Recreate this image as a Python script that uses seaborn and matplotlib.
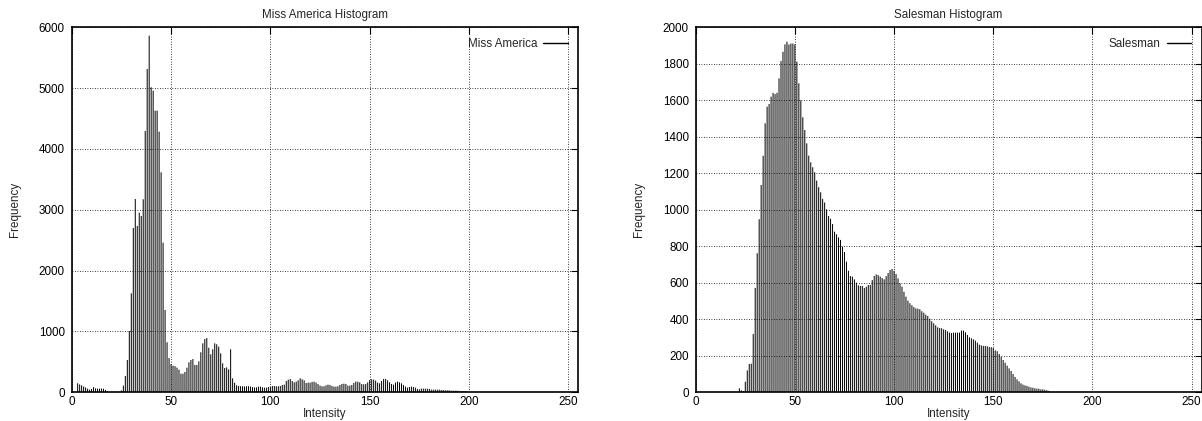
import numpy as np
import matplotlib
matplotlib.use("Agg")
import matplotlib.pyplot as plt
from matplotlib.lines import Line2D
import seaborn as sns

# Grey-level intensities 0..255 and the pixel counts for each image
intensity = np.arange(256)

miss_america = (
    [0, 0, 0, 148, 130, 115, 95, 80, 60, 45]
    + [55, 85, 65, 60, 60, 62, 58, 40, 18, 0]
    + [0, 0, 0, 0, 0, 30, 110, 268, 531, 1008]
    + [1627, 2701, 3178, 2734, 2953, 2899, 3173, 4296, 5315, 5863]
    + [5014, 4959, 4630, 4630, 4285, 3616, 2460, 1353, 822, 565]
    + [462, 438, 430, 405, 372, 306, 306, 334, 405, 493]
    + [531, 547, 449, 449, 509, 658, 805, 876, 893, 733]
    + [625, 707, 805, 790, 750, 641, 477, 400, 410, 378]
    + [707, 230, 158, 115, 104, 100, 100, 95, 100, 100]
    + [95, 85, 80, 82, 93, 93, 82, 77, 77, 88]
    + [93, 104, 104, 99, 99, 104, 120, 126, 186, 208]
    + [219, 186, 164, 175, 197, 230, 214, 197, 153, 159]
    + [159, 170, 175, 159, 137, 110, 99, 99, 115, 126]
    + [120, 104, 93, 93, 99, 120, 137, 142, 137, 110]
    + [110, 120, 153, 175, 175, 164, 137, 131, 137, 164]
    + [203, 214, 208, 192, 159, 148, 186, 219, 219, 197]
    + [164, 137, 126, 159, 175, 164, 148, 120, 93, 77]
    + [88, 93, 88, 77, 55, 49, 60, 60, 60, 60]
    + [55, 44, 44, 44, 44, 44, 38, 38, 33, 33]
    + [33, 27, 27, 27, 27, 22, 22, 22, 16, 16]
    + [0] * 56
)

salesman = (
    [0] * 20
    + [0, 0, 22, 11, 7, 58, 120, 155, 157, 320]
    + [572, 762, 948, 1136, 1296, 1474, 1565, 1580, 1620, 1641]
    + [1634, 1641, 1720, 1815, 1866, 1906, 1921, 1906, 1911, 1911]
    + [1906, 1812, 1693, 1600, 1507, 1437, 1364, 1297, 1260, 1233]
    + [1206, 1160, 1124, 1096, 1060, 1040, 1003, 966, 951, 922]
    + [880, 866, 849, 835, 798, 769, 716, 666, 637, 634]
    + [619, 601, 586, 583, 583, 572, 578, 588, 588, 615]
    + [637, 646, 642, 634, 626, 619, 637, 654, 670, 676]
    + [666, 648, 624, 597, 579, 551, 524, 502, 488, 477]
    + [467, 460, 458, 455, 444, 436, 425, 418, 403, 389]
    + [378, 367, 356, 352, 351, 345, 341, 334, 327, 325]
    + [327, 327, 327, 327, 338, 338, 329, 314, 301, 296]
    + [290, 283, 272, 261, 257, 254, 254, 252, 248, 247]
    + [243, 230, 225, 210, 195, 177, 162, 146, 131, 117]
    + [100, 84, 71, 60, 49, 42, 38, 35, 31, 27]
    + [25, 22, 20, 20, 16, 16, 14, 11, 8, 0]
    + [0] * 76
)

panel_titles = ["Miss America Histogram", "Salesman Histogram"]
series_names = ["Miss America", "Salesman"]
x_ticks = [0, 50, 100, 150, 200, 250]
y_ticks_miss_america = [0, 1000, 2000, 3000, 4000, 5000, 6000]
y_ticks_salesman = [0, 200, 400, 600, 800, 1000, 1200, 1400, 1600, 1800, 2000]

sns.set_style("white")
plt.rcParams["font.family"] = ["Liberation Sans", "DejaVu Sans"]
FS = 8.4

W, H = 1202, 421
fig = plt.figure(figsize=(W / 100, H / 100), dpi=100)
bottom = (H - 392.3) / H
height = 365.0 / H
ax_left = fig.add_axes([71.7 / W, bottom, 506.6 / W, height])
ax_right = fig.add_axes([695.7 / W, bottom, 505.8 / W, height])

panels = [
    (ax_left, miss_america, y_ticks_miss_america),
    (ax_right, salesman, y_ticks_salesman),
]

for (ax, counts, yt), title, name in zip(panels, panel_titles, series_names):
    # thin impulse-style bars, one per intensity level
    sns.histplot(x=intensity, weights=counts, discrete=True, shrink=0.5,
                 color="black", alpha=1, linewidth=0, ax=ax)
    for p in ax.patches:
        p.set_snap(False)
    ax.set_xlim(0, 255)
    ax.set_ylim(yt[0], yt[-1])
    ax.set_xticks(x_ticks)
    ax.set_yticks(yt)
    ax.set_axisbelow(True)
    ax.grid(True, color="black", linestyle=(0, (1, 2)), linewidth=0.6)
    ax.tick_params(axis="both", direction="in", length=5, width=0.8,
                   top=True, right=True, labelsize=FS, colors="black")
    ax.tick_params(axis="x", pad=3)
    ax.tick_params(axis="y", pad=5)
    for sp in ax.spines.values():
        sp.set_visible(True)
        sp.set_color("black")
        sp.set_linewidth(1.2)
    ax.set_title(title, fontsize=FS, pad=7)
    ax.set_xlabel("Intensity", fontsize=FS, labelpad=0)
    ax.set_ylabel("Frequency", fontsize=FS, labelpad=13)
    ax.legend(handles=[Line2D([], [], color="black", lw=1)], labels=[name],
              loc="upper right", frameon=False, markerfirst=False,
              handlelength=2.1, handletextpad=0.5, borderaxespad=0.5,
              fontsize=FS)

fig.savefig("out.png", dpi=100)
